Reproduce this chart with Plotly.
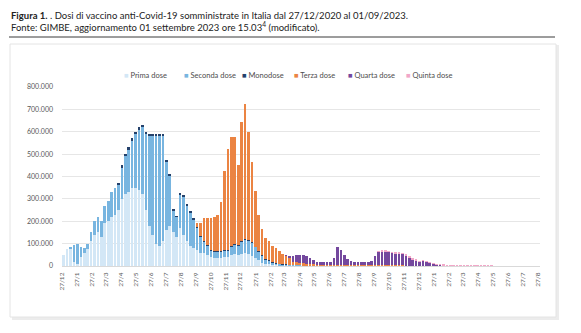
import plotly.graph_objects as go
import pandas as pd

# ---------------- DATA (daily doses, weekly peak levels, in thousands) ----------------
START = "2020-12-27"
N_WEEKS = 140

prima_k = [
    50, 75, 80, 20, 10, 40, 60, 75, 110, 140,
    150, 130, 190, 200, 220, 230, 250, 300, 320, 330,
    350, 350, 340, 320, 250, 180, 140, 100, 90, 110,
    160, 180, 150, 130, 170, 140, 110, 90, 80, 70,
    60, 60, 50, 40, 35, 35, 35, 40, 40, 50,
    55, 50, 55, 60, 55, 45, 35, 25, 15, 10,
    8, 6, 5, 4, 4, 3, 3, 2, 2, 2,
    2, 1, 1, 1, 1, 1, 1, 1, 1, 1,
    1, 1, 1, 1, 1, 1, 1, 1, 1, 1,
    1, 1, 1, 1, 1, 1, 1, 1, 1, 1,
    1, 1, 0, 0, 0, 0, 0, 0, 0, 0,
    0, 0, 0, 0, 0, 0, 0, 0, 0, 0,
    0, 0, 0, 0, 0, 0, 0, 0, 0, 0,
    0, 0, 0, 0, 0, 0, 0, 0, 0, 0,
]

seconda_k = [
    0, 0, 5, 75, 90, 45, 20, 25, 40, 60,
    70, 70, 80, 90, 110, 120, 115, 140, 170, 190,
    210, 240, 270, 300, 340, 405, 445, 485, 495, 475,
    305, 225, 100, 90, 150, 170, 160, 150, 130, 100,
    70, 50, 40, 30, 30, 30, 30, 30, 30, 35,
    40, 40, 55, 60, 60, 60, 50, 40, 30, 20,
    15, 10, 6, 5, 4, 4, 3, 3, 2, 2,
    2, 1, 1, 1, 1, 1, 1, 1, 1, 1,
    1, 1, 1, 1, 1, 1, 1, 1, 1, 1,
    1, 1, 1, 1, 1, 1, 1, 1, 1, 1,
    0, 0, 0, 0, 0, 0, 0, 0, 0, 0,
    0, 0, 0, 0, 0, 0, 0, 0, 0, 0,
    0, 0, 0, 0, 0, 0, 0, 0, 0, 0,
    0, 0, 0, 0, 0, 0, 0, 0, 0, 0,
]

monodose_k = [
    0, 0, 0, 0, 0, 0, 0, 0, 0, 0,
    0, 0, 0, 0, 0, 0, 5, 10, 10, 10,
    10, 10, 10, 10, 8, 5, 5, 5, 5, 5,
    5, 5, 3, 3, 3, 3, 3, 3, 3, 3,
    3, 3, 3, 3, 3, 3, 3, 3, 3, 3,
    3, 3, 2, 2, 2, 2, 2, 2, 2, 2,
    2, 2, 1, 1, 1, 1, 0, 0, 0, 0,
    0, 0, 0, 0, 0, 0, 0, 0, 0, 0,
    0, 0, 0, 0, 0, 0, 0, 0, 0, 0,
    0, 0, 0, 0, 0, 0, 0, 0, 0, 0,
    0, 0, 0, 0, 0, 0, 0, 0, 0, 0,
    0, 0, 0, 0, 0, 0, 0, 0, 0, 0,
    0, 0, 0, 0, 0, 0, 0, 0, 0, 0,
    0, 0, 0, 0, 0, 0, 0, 0, 0, 0,
]

terza_k = [
    0, 0, 0, 0, 0, 0, 0, 0, 0, 0,
    0, 0, 0, 0, 0, 0, 0, 0, 0, 0,
    0, 0, 0, 0, 0, 0, 0, 0, 0, 0,
    0, 0, 0, 0, 0, 0, 0, 0, 0, 20,
    60, 100, 120, 140, 150, 160, 220, 350, 450, 490,
    480, 360, 530, 600, 480, 360, 250, 160, 120, 95,
    85, 72, 70, 55, 45, 38, 30, 15, 12, 10,
    8, 6, 5, 5, 4, 4, 4, 4, 4, 4,
    4, 4, 3, 3, 3, 2, 2, 2, 2, 2,
    2, 2, 2, 2, 2, 2, 2, 2, 2, 2,
    1, 1, 1, 1, 1, 1, 1, 1, 0, 0,
    0, 0, 0, 0, 0, 0, 0, 0, 0, 0,
    0, 0, 0, 0, 0, 0, 0, 0, 0, 0,
    0, 0, 0, 0, 0, 0, 0, 0, 0, 0,
]

quarta_k = [
    0, 0, 0, 0, 0, 0, 0, 0, 0, 0,
    0, 0, 0, 0, 0, 0, 0, 0, 0, 0,
    0, 0, 0, 0, 0, 0, 0, 0, 0, 0,
    0, 0, 0, 0, 0, 0, 0, 0, 0, 0,
    0, 0, 0, 0, 0, 0, 0, 0, 0, 0,
    0, 0, 0, 0, 0, 0, 0, 0, 0, 0,
    0, 0, 0, 0, 0, 2, 5, 25, 33, 35,
    35, 35, 30, 22, 14, 12, 12, 13, 14, 30,
    80, 65, 45, 25, 17, 12, 12, 13, 14, 16,
    18, 40, 60, 63, 62, 60, 56, 54, 52, 50,
    45, 38, 28, 24, 18, 22, 18, 13, 9, 7,
    5, 4, 3, 2, 2, 1.5, 1, 1, 1, 1,
    1, 0.5, 0.5, 0.5, 0.5, 0.5, 0, 0, 0, 0,
    0, 0, 0, 0, 0, 0, 0, 0, 0, 0,
]

quinta_k = [
    0, 0, 0, 0, 0, 0, 0, 0, 0, 0,
    0, 0, 0, 0, 0, 0, 0, 0, 0, 0,
    0, 0, 0, 0, 0, 0, 0, 0, 0, 0,
    0, 0, 0, 0, 0, 0, 0, 0, 0, 0,
    0, 0, 0, 0, 0, 0, 0, 0, 0, 0,
    0, 0, 0, 0, 0, 0, 0, 0, 0, 0,
    0, 0, 0, 0, 0, 0, 0, 0, 0, 0,
    0, 0, 0, 0, 0, 0, 0, 0, 0, 0,
    0, 0, 0, 0, 0, 0, 0, 0, 0, 0,
    0, 0, 1, 1, 2, 2, 2, 2, 3, 3,
    3, 3, 3, 2, 2, 2, 2, 2, 2, 1,
    1, 1, 1, 1, 1, 0.5, 0.5, 0.5, 0.5, 0.5,
    0.5, 0.5, 0.5, 0.5, 0.5, 0.5, 0, 0, 0, 0,
    0, 0, 0, 0, 0, 0, 0, 0, 0, 0,
]

series_names = ["Prima dose", "Seconda dose", "Monodose", "Terza dose", "Quarta dose", "Quinta dose"]
series_data = [prima_k, seconda_k, monodose_k, terza_k, quarta_k, quinta_k]
series_colors = ["#d3e7f6", "#78b5e0", "#24416b", "#eb8443", "#74489e", "#f1a7c8"]

title_line1 = "<b>Figura 1.</b> . Dosi di vaccino anti-Covid-19 somministrate in Italia dal 27/12/2020 al 01/09/2023."
title_line2 = "Fonte: GIMBE, aggiornamento 01 settembre 2023 ore 15.03<sup>4</sup> (modificato)."

# ---------------- FIGURE ----------------
W, H = 581, 333
L, R, T, B = 62, 41, 87, 67
PW, PH = W - L - R, H - T - B


def px(x):
    return (x - L) / PW


def py(y):
    return (H - B - y) / PH


weeks = pd.date_range(START, periods=N_WEEKS, freq="7D")
centers = weeks + pd.Timedelta(hours=84)
DAY_MS = 86400000

fig = go.Figure()
for name, vals, col in zip(series_names, series_data, series_colors):
    fig.add_trace(go.Bar(
        x=centers, y=[v * 1000 for v in vals], name=name,
        marker=dict(color=col, line=dict(width=0)),
        width=5.4 * DAY_MS, showlegend=False,
    ))

tick_dates = pd.date_range("2020-12-27", "2023-08-27", freq=pd.DateOffset(months=1))
tick_text = [f"27/{d.month}" for d in tick_dates]

shapes = [
    dict(type="rect", xref="paper", yref="paper", x0=px(12), x1=px(559), y0=py(320), y1=py(45),
         fillcolor="#ececec", line=dict(width=0), layer="below"),
    dict(type="rect", xref="paper", yref="paper", x0=px(10), x1=px(556), y0=py(317), y1=py(44),
         fillcolor="white", line=dict(color="#e4e4e4", width=1), layer="below"),
    dict(type="line", xref="paper", yref="paper", x0=px(9), x1=px(555), y0=py(37), y1=py(37),
         line=dict(color="#3a3a3a", width=1)),
]

annotations = [
    dict(text=title_line1, x=px(9), y=py(15), xref="paper", yref="paper", xanchor="left",
         yanchor="middle", showarrow=False, font=dict(family="Lato", size=9.5, color="#222")),
    dict(text=title_line2, x=px(9), y=py(26.5), xref="paper", yref="paper", xanchor="left",
         yanchor="middle", showarrow=False, font=dict(family="Lato", size=9.5, color="#222")),
]

legend_x = [122, 182, 240, 292, 346, 404]
for name, col, lx in zip(series_names, series_colors, legend_x):
    annotations.append(dict(
        text=f"<span style='color:{col}'>■</span> {name}", x=px(lx), y=py(76),
        xref="paper", yref="paper", xanchor="left", yanchor="middle", showarrow=False,
        font=dict(family="Lato", size=7.5, color="#4d4d4d"),
    ))

fig.update_layout(
    width=W, height=H,
    margin=dict(l=L, r=R, t=T, b=B),
    paper_bgcolor="white", plot_bgcolor="white",
    barmode="stack",
    separators=",.",
    font=dict(family="Lato", color="#595959"),
    shapes=shapes,
    annotations=annotations,
    xaxis=dict(
        type="date", range=["2020-12-27", "2023-09-01"],
        tickmode="array", tickvals=tick_dates, ticktext=tick_text,
        tickangle=-90, tickfont=dict(size=6.5, color="#595959"),
        showgrid=False, showline=True, linecolor="#d9d9d9", linewidth=1,
        ticks="", ticklabelstandoff=3, zeroline=False,
    ),
    yaxis=dict(
        range=[0, 800000], dtick=100000, tickformat=",d",
        tickfont=dict(size=7, color="#595959"),
        showgrid=True, gridcolor="#e6e6e6", gridwidth=1,
        zeroline=False, showline=False, ticks="", ticklabelstandoff=8,
    ),
)

fig.write_html("out.html")
